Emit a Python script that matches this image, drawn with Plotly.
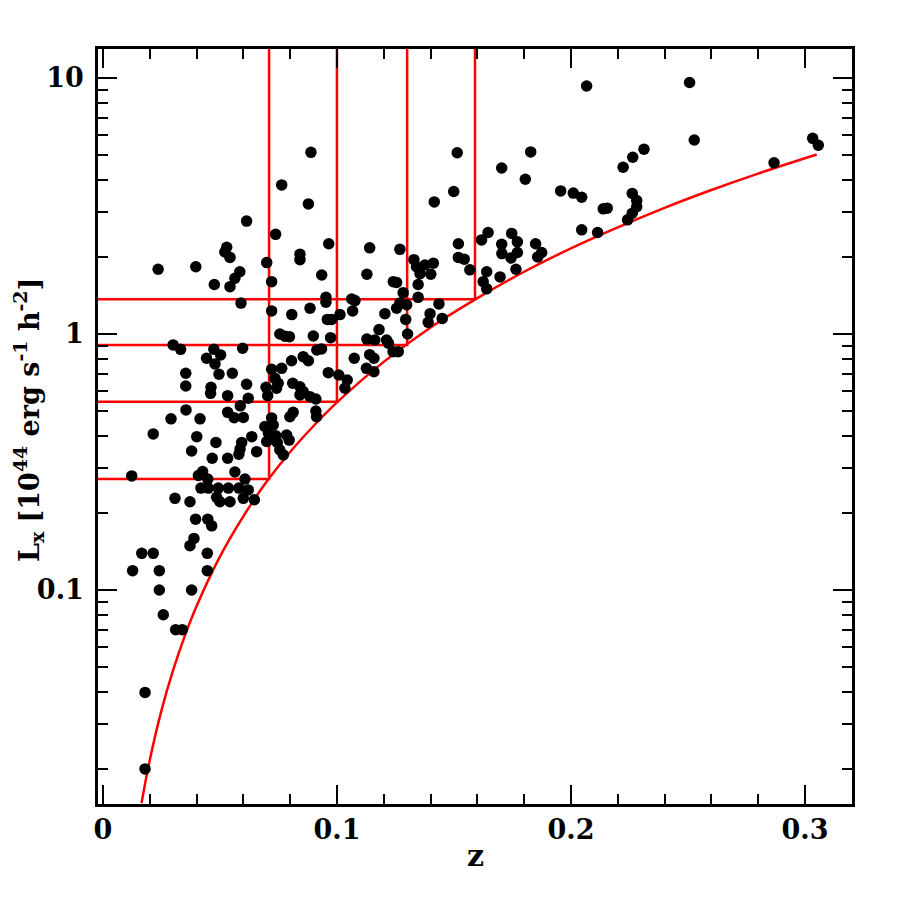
import plotly.graph_objects as go

# redshift and X-ray luminosity of the clusters (10^44 erg/s/h^2)
z = [
    0.2067, 0.2507, 0.2527, 0.3033, 0.3057, 0.2868, 0.2312, 0.2264, 0.2223, 0.1828,
    0.1805, 0.1704, 0.1956, 0.2010, 0.2046, 0.2138, 0.2155, 0.2262, 0.2281, 0.2281,
    0.2262, 0.2242, 0.2046, 0.2114, 0.1747, 0.1771, 0.1704, 0.1705, 0.1849, 0.1875,
    0.1858, 0.1771, 0.1744, 0.1765, 0.1697,
    0.1514, 0.1499, 0.1416, 0.1140, 0.1269, 0.1128, 0.1519, 0.1618, 0.1646, 0.1519,
    0.1544, 0.1568, 0.1640, 0.1625, 0.1640, 0.1329, 0.1340, 0.1376, 0.1412, 0.1355,
    0.1401, 0.1347, 0.1241, 0.1255, 0.1283, 0.1347, 0.1269, 0.1255, 0.1298, 0.1436,
    0.1205, 0.1398, 0.1294, 0.1450, 0.1390, 0.1180,
    0.0889, 0.0764, 0.0878, 0.0614, 0.0738, 0.0965, 0.0842, 0.0842, 0.0700, 0.0585,
    0.0721, 0.0935, 0.0590, 0.0953, 0.0953, 0.1063, 0.1077, 0.0721, 0.0807, 0.0885,
    0.1067, 0.1013, 0.0959, 0.0977,
    0.0236, 0.0397, 0.0529, 0.0521, 0.0543, 0.0476, 0.0564, 0.0543,
    0.0300, 0.0332, 0.0474, 0.0503, 0.0443, 0.0479, 0.0597, 0.0354, 0.0496, 0.0553,
    0.0354, 0.0462, 0.0460, 0.0533, 0.0614, 0.0587, 0.0355, 0.0291, 0.0415, 0.0533,
    0.0561, 0.0600, 0.0215, 0.0401, 0.0483, 0.0379, 0.0593, 0.0586, 0.0581, 0.0467,
    0.0533, 0.0123, 0.0426, 0.0408, 0.0564, 0.0448, 0.0419, 0.0450, 0.0493, 0.0536,
    0.0581, 0.0308, 0.0372, 0.0486, 0.0500, 0.0543, 0.0600, 0.0647,
    0.0396, 0.0448, 0.0465, 0.0389, 0.0372, 0.0166, 0.0215, 0.0446, 0.0127, 0.0241,
    0.0446, 0.0241, 0.0379, 0.0258, 0.0311, 0.0339, 0.0180, 0.0180,
    0.0756, 0.0778, 0.0797, 0.0899, 0.0973, 0.1128, 0.0934, 0.0914, 0.1074, 0.1140,
    0.0856, 0.0878, 0.0806, 0.0764, 0.0721, 0.0963, 0.1008, 0.1044, 0.1034, 0.0735,
    0.0749, 0.0742, 0.0697, 0.0811, 0.0842, 0.0856, 0.0842, 0.0885, 0.0910, 0.0704,
    0.0621, 0.0910, 0.0913, 0.0813, 0.0799, 0.0721, 0.0728, 0.0692, 0.0707, 0.0636,
    0.0785, 0.0796, 0.0739, 0.0745, 0.0700, 0.0657, 0.0756, 0.0771, 0.0607, 0.0621,
    0.1162, 0.1212, 0.1220, 0.1302, 0.1240, 0.1262, 0.1158, 0.1126, 0.1158,
]
lx = [
    9.3, 9.6, 5.72, 5.81, 5.46, 4.66, 5.27, 4.9, 4.48, 5.14,
    4.02, 4.45, 3.62, 3.55, 3.42, 3.08, 3.10, 3.54, 3.32, 3.14,
    2.96, 2.79, 2.55, 2.49, 2.47, 2.29, 2.24, 2.06, 2.25, 2.08,
    2.0, 2.08, 1.98, 1.79, 1.67,
    5.1, 3.6, 3.28, 2.17, 2.14, 1.71, 2.25, 2.33, 2.49, 1.99,
    1.96, 1.78, 1.75, 1.60, 1.50, 1.95, 1.83, 1.86, 1.89, 1.72,
    1.71, 1.56, 1.60, 1.59, 1.45, 1.39, 1.32, 1.26, 1.30, 1.31,
    1.20, 1.20, 1.14, 1.15, 1.11, 1.04,
    5.12, 3.82, 3.22, 2.76, 2.45, 2.25, 2.05, 1.95, 1.90, 1.75,
    1.60, 1.70, 1.32, 1.39, 1.33, 1.37, 1.35, 1.23, 1.19, 1.26,
    1.23, 1.19, 1.14, 1.14,
    1.79, 1.83, 2.18, 2.09, 1.99, 1.56, 1.65, 1.53,
    0.906, 0.871, 0.871, 0.828, 0.804, 0.764, 0.879, 0.702, 0.696, 0.702,
    0.626, 0.619, 0.586, 0.574, 0.636, 0.524, 0.505, 0.466, 0.466, 0.494,
    0.471, 0.472, 0.407, 0.397, 0.377, 0.349, 0.377, 0.355, 0.339, 0.327,
    0.327, 0.279, 0.290, 0.280, 0.289, 0.271, 0.250, 0.250, 0.250, 0.250,
    0.250, 0.228, 0.221, 0.230, 0.221, 0.221, 0.228, 0.225,
    0.189, 0.189, 0.178, 0.159, 0.149, 0.139, 0.139, 0.139, 0.119, 0.119,
    0.119, 0.100, 0.100, 0.080, 0.070, 0.070, 0.0398, 0.0200,
    1.0, 0.98, 0.976, 0.982, 0.967, 0.955, 0.874, 0.866, 0.804, 0.830,
    0.815, 0.786, 0.786, 0.734, 0.728, 0.706, 0.691, 0.661, 0.614, 0.671,
    0.642, 0.614, 0.619, 0.642, 0.622, 0.595, 0.578, 0.569, 0.557, 0.574,
    0.561, 0.500, 0.475, 0.494, 0.475, 0.470, 0.441, 0.435, 0.410, 0.397,
    0.403, 0.385, 0.400, 0.377, 0.380, 0.347, 0.352, 0.337, 0.271, 0.246,
    0.947, 0.947, 0.920, 1.0, 0.853, 0.853, 0.804, 0.734, 0.712,
]

# flux limit curve
z_lim = [0.0165, 0.02, 0.025, 0.03, 0.035, 0.04, 0.05, 0.06, 0.07, 0.08, 0.09,
         0.10, 0.12, 0.14, 0.16, 0.18, 0.20, 0.22, 0.24, 0.26, 0.28, 0.305]
l_lim = [0.0147, 0.0216, 0.0338, 0.0486, 0.0662, 0.0864, 0.135, 0.194, 0.265, 0.346, 0.437,
         0.54, 0.778, 1.06, 1.38, 1.75, 2.16, 2.61, 3.11, 3.65, 4.23, 5.02]

# subsample corners (redshift cut, luminosity cut)
z_cut = [0.071, 0.100, 0.130, 0.159]
l_cut = [0.271, 0.543, 0.906, 1.366]

RED = "#ff0000"
FONT = "DejaVu Serif"

fig = go.Figure()

for zc, lc in zip(z_cut, l_cut):
    fig.add_trace(go.Scatter(
        x=[-0.01, zc, zc], y=[lc, lc, 30],
        mode="lines", line=dict(color=RED, width=2.5),
        showlegend=False, hoverinfo="skip"
    ))

fig.add_trace(go.Scatter(
    x=z_lim, y=l_lim, mode="lines",
    line=dict(color=RED, width=2.5, shape="spline"),
    showlegend=False
))

fig.add_trace(go.Scatter(
    x=z, y=lx, mode="markers",
    marker=dict(color="black", size=11.5),
    showlegend=False
))

minor_y = [m * 10 ** e for e in (-2, -1, 0, 1) for m in range(2, 10)]

# page body adds 8px, so margins are shifted to keep the frame in place
fig.update_layout(
    width=900, height=900,
    margin=dict(l=90, r=56, t=41, b=104),
    plot_bgcolor="white", paper_bgcolor="white",
    font=dict(family=FONT, size=27, color="black"),
    xaxis=dict(
        range=[-0.0021, 0.3201],
        tickvals=[0, 0.1, 0.2, 0.3],
        ticktext=["<b>0</b>", "<b>0.1</b>", "<b>0.2</b>", "<b>0.3</b>"],
        ticks="inside", ticklen=19, tickwidth=2, tickcolor="black",
        minor=dict(dtick=0.02, tick0=0, ticks="inside", ticklen=10,
                   tickwidth=2, tickcolor="black", showgrid=False),
        showline=True, linewidth=2.5, linecolor="black", mirror="ticks",
        showgrid=False, zeroline=False,
    ),
    yaxis=dict(
        type="log",
        range=[-1.836, 1.113],
        tickvals=[0.1, 1, 10],
        ticktext=["<b>0.1</b>", "<b>1</b>", "<b>10</b>"],
        ticks="inside", ticklen=19, tickwidth=2, tickcolor="black",
        ticklabelstandoff=6,
        minor=dict(tickvals=minor_y, ticks="inside", ticklen=10,
                   tickwidth=2, tickcolor="black", showgrid=False),
        showline=True, linewidth=2.5, linecolor="black", mirror="ticks",
        showgrid=False, zeroline=False,
    ),
    annotations=[
        dict(text="<b>z</b>", xref="paper", yref="paper", x=0.5, y=-0.068,
             showarrow=False, font=dict(family=FONT, size=30),
             xanchor="center", yanchor="middle"),
        dict(text="<b>L<sub>x</sub> [10<sup>44</sup> erg s<sup>-1</sup> h<sup>-2</sup>]</b>",
             xref="paper", yref="paper", x=-0.092, y=0.508, textangle=-90,
             showarrow=False, font=dict(family=FONT, size=27),
             xanchor="center", yanchor="middle"),
    ],
)

fig.write_html("out.html")
